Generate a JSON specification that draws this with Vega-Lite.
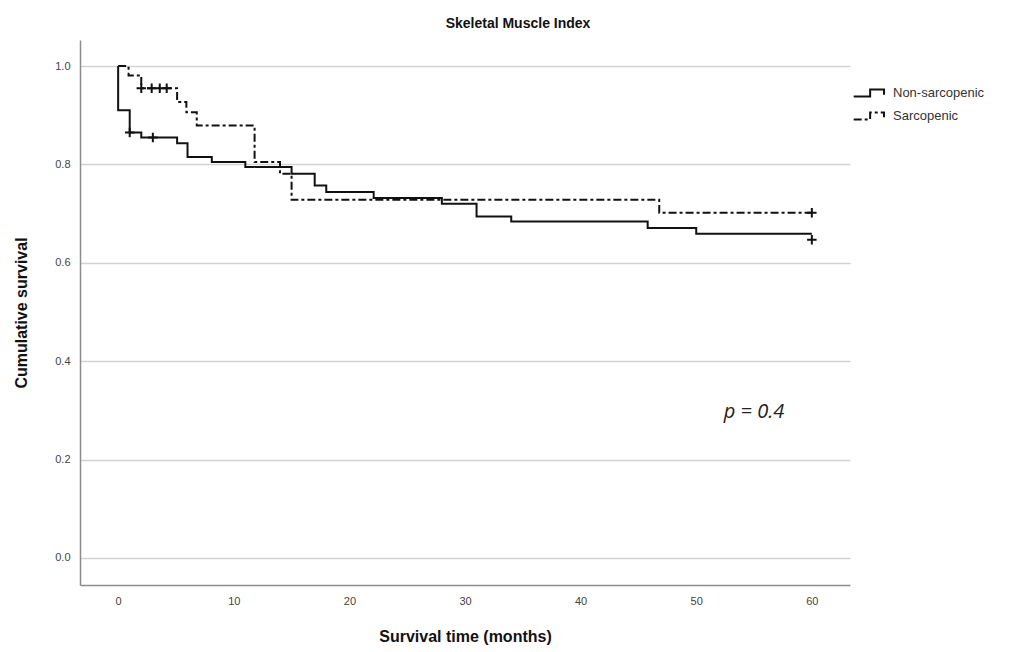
{
  "$schema": "https://vega.github.io/schema/vega-lite/v6.json",
  "autosize": "none",
  "width": 770,
  "height": 545,
  "padding": {"left": 80, "top": 40, "right": 162, "bottom": 67},
  "background": "white",
  "config": {
    "view": {"stroke": null},
    "font": "Liberation Sans"
  },
  "title": {
    "text": "Skeletal Muscle Index",
    "fontSize": 14,
    "fontWeight": "bold",
    "font": "Liberation Sans",
    "color": "#111",
    "offset": 9,
    "dx": 53
  },
  "datasets": {
    "curves": [
      {"group": "Non-sarcopenic", "t": 0, "s": 1.0},
      {"group": "Non-sarcopenic", "t": 0, "s": 0.91},
      {"group": "Non-sarcopenic", "t": 1.0, "s": 0.865},
      {"group": "Non-sarcopenic", "t": 2.0, "s": 0.855},
      {"group": "Non-sarcopenic", "t": 5.1, "s": 0.843},
      {"group": "Non-sarcopenic", "t": 6.0, "s": 0.815},
      {"group": "Non-sarcopenic", "t": 8.1, "s": 0.805},
      {"group": "Non-sarcopenic", "t": 11.0, "s": 0.795},
      {"group": "Non-sarcopenic", "t": 15.0, "s": 0.781},
      {"group": "Non-sarcopenic", "t": 17.0, "s": 0.757},
      {"group": "Non-sarcopenic", "t": 18.0, "s": 0.744},
      {"group": "Non-sarcopenic", "t": 22.1, "s": 0.732},
      {"group": "Non-sarcopenic", "t": 28.0, "s": 0.72},
      {"group": "Non-sarcopenic", "t": 31.0, "s": 0.694},
      {"group": "Non-sarcopenic", "t": 34.0, "s": 0.684},
      {"group": "Non-sarcopenic", "t": 45.8, "s": 0.671},
      {"group": "Non-sarcopenic", "t": 50.0, "s": 0.659},
      {"group": "Non-sarcopenic", "t": 60.0, "s": 0.659},
      {"group": "Sarcopenic", "t": 0, "s": 1.0},
      {"group": "Sarcopenic", "t": 0.9, "s": 0.981},
      {"group": "Sarcopenic", "t": 2.0, "s": 0.955},
      {"group": "Sarcopenic", "t": 5.1, "s": 0.927},
      {"group": "Sarcopenic", "t": 5.9, "s": 0.906},
      {"group": "Sarcopenic", "t": 6.8, "s": 0.879},
      {"group": "Sarcopenic", "t": 11.8, "s": 0.805},
      {"group": "Sarcopenic", "t": 14.0, "s": 0.781},
      {"group": "Sarcopenic", "t": 15.0, "s": 0.728},
      {"group": "Sarcopenic", "t": 46.8, "s": 0.702},
      {"group": "Sarcopenic", "t": 60.0, "s": 0.702}
    ],
    "censored": [
      {"group": "Non-sarcopenic", "t": 1.0, "s": 0.865},
      {"group": "Non-sarcopenic", "t": 3.0, "s": 0.855},
      {"group": "Non-sarcopenic", "t": 60.0, "s": 0.647},
      {"group": "Sarcopenic", "t": 2.0, "s": 0.955},
      {"group": "Sarcopenic", "t": 2.9, "s": 0.955},
      {"group": "Sarcopenic", "t": 3.6, "s": 0.955},
      {"group": "Sarcopenic", "t": 4.2, "s": 0.955},
      {"group": "Sarcopenic", "t": 60.0, "s": 0.702}
    ],
    "note": [
      {"t": 55, "s": 0.296, "label": "p = 0.4"}
    ]
  },
  "encoding": {
    "x": {
      "field": "t", "type": "quantitative",
      "scale": {"domain": [-3.3, 63.3], "nice": false, "zero": false},
      "axis": {
        "values": [0, 10, 20, 30, 40, 50, 60],
        "title": "Survival time (months)",
        "grid": false, "ticks": false,
        "domainColor": "#8c8c8c", "domainWidth": 1.5,
        "labelColor": "#444", "labelFontSize": 11, "labelPadding": 10,
        "titleFontSize": 16, "titleFontWeight": "bold", "titleColor": "#111",
        "titlePadding": 22
      }
    },
    "y": {
      "field": "s", "type": "quantitative",
      "scale": {"domain": [-0.055, 1.053], "nice": false, "zero": false},
      "axis": {
        "values": [0, 0.2, 0.4, 0.6, 0.8, 1.0],
        "format": ".1f",
        "title": "Cumulative survival",
        "grid": true, "gridColor": "#d2d2d2", "gridWidth": 1.5,
        "ticks": false,
        "domainColor": "#8c8c8c", "domainWidth": 1.5,
        "labelColor": "#444", "labelFontSize": 11, "labelPadding": 10,
        "titleFontSize": 16, "titleFontWeight": "bold", "titleColor": "#111",
        "titlePadding": 25
      }
    }
  },
  "layer": [
    {
      "data": {"name": "curves"},
      "mark": {"type": "line", "interpolate": "step-after", "strokeWidth": 2, "color": "#111"},
      "encoding": {
        "order": {"value": null},
        "strokeDash": {
          "field": "group", "type": "nominal",
          "scale": {"domain": ["Non-sarcopenic", "Sarcopenic"], "range": [[1, 0], [8, 3, 3, 3]]},
          "legend": {
            "title": null,
            "orient": "none",
            "legendX": 781,
            "legendY": 43,
            "symbolType": "M-2,0.4H-0.1V-0.4H1.5V0.2",
            "symbolSize": 300,
            "symbolStrokeWidth": 2,
            "symbolStrokeColor": "#111",
            "symbolFillColor": "transparent",
            "labelFontSize": 13,
            "labelColor": "#333",
            "labelOffset": 12,
            "rowPadding": 5
          }
        }
      }
    },
    {
      "data": {"name": "censored"},
      "mark": {"type": "point", "shape": "M-1,0H1M0,-1V1", "size": 90, "strokeWidth": 2, "color": "#111", "filled": false, "opacity": 1}
    },
    {
      "data": {"name": "note"},
      "mark": {"type": "text", "font": "Open Sans", "fontStyle": "italic", "fontSize": 20, "color": "#222", "align": "center", "baseline": "middle"},
      "encoding": {"text": {"field": "label"}}
    }
  ]
}
